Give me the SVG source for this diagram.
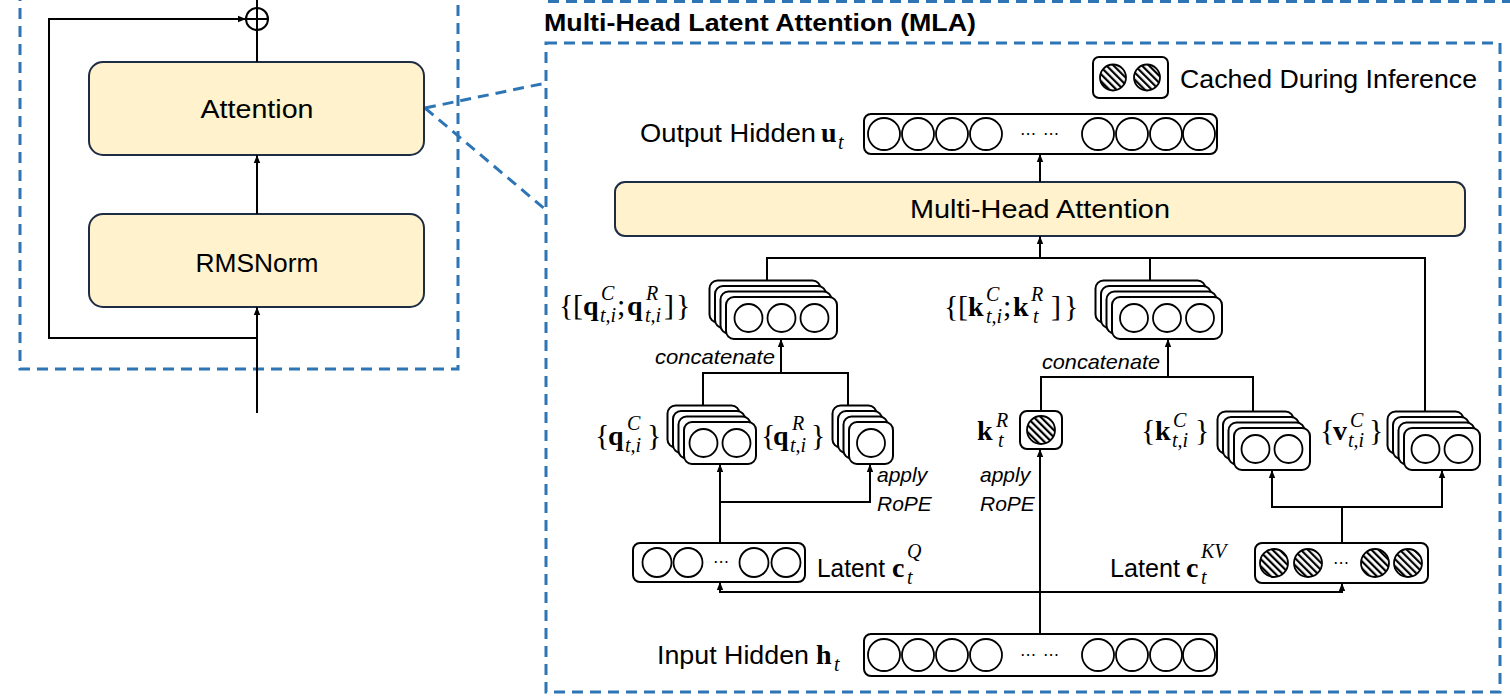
<svg xmlns="http://www.w3.org/2000/svg" width="1510" height="699" viewBox="0 0 1510 699">
<style>
.box{fill:#FFF2CC;stroke:#1F2D44;stroke-width:2}
.vec{fill:#fff;stroke:#000;stroke-width:2}
.cir{fill:#fff;stroke:#000;stroke-width:1.8}
.hc{fill:url(#hatch);stroke:#000;stroke-width:1.8}
.dash{fill:none;stroke:#2E75B6;stroke-width:3;stroke-dasharray:11 7}
.ln{fill:none;stroke:#000;stroke-width:2}
.sans{font-family:"Liberation Sans",Arial,sans-serif;fill:#000}
.it{font-family:"Liberation Sans",Arial,sans-serif;font-style:italic;fill:#000;font-size:21px}
.mb{font-family:"Liberation Serif","Times New Roman",serif;font-weight:bold;font-size:28px;fill:#000}
.mr{font-family:"Liberation Serif","Times New Roman",serif;font-size:30px;fill:#000}
.ms{font-family:"Liberation Serif","Times New Roman",serif;font-style:italic;font-size:20px;fill:#000}
.dots{font-family:"DejaVu Sans",sans-serif;font-size:16px;fill:#000}
</style>
<defs>
<pattern id="hatch" patternUnits="userSpaceOnUse" width="5" height="5" patternTransform="rotate(-45)">
<rect width="5" height="5" fill="#fff"/><rect width="2.2" height="5" fill="#000"/>
</pattern>
<marker id="ah" viewBox="0 0 10 10" refX="10" refY="5" markerWidth="8" markerHeight="8" markerUnits="userSpaceOnUse" orient="auto">
<path d="M0,1 L10,5 L0,9 z" fill="#000"/>
</marker>
</defs>
<rect width="1510" height="699" fill="#fff"/>

<g id="frames">
<path class="dash" d="M20,-10 V369 H458 V-10"/>
<path class="dash" d="M548,1.5 H1512"/>
<rect class="dash" x="546" y="43" width="954" height="649"/>
<path class="dash" d="M425,108 L546,83 M425,108 L546,210"/>
</g>

<g id="title"><text class="sans" x="544" y="31" font-size="24" font-weight="bold" textLength="432" lengthAdjust="spacingAndGlyphs">Multi-Head Latent Attention (MLA)</text></g>

<g id="attention-block">
<rect class="box" x="89" y="62" width="335" height="93" rx="14"/>
<text class="sans" x="257" y="118" font-size="26" text-anchor="middle" textLength="113" lengthAdjust="spacingAndGlyphs">Attention</text>
</g>
<g id="rmsnorm">
<rect class="box" x="89" y="214" width="335" height="93" rx="14"/>
<text class="sans" x="257" y="272" font-size="26" text-anchor="middle" textLength="123" lengthAdjust="spacingAndGlyphs">RMSNorm</text>
</g>
<g id="add">
<circle cx="257" cy="19" r="11" fill="#fff" stroke="#000" stroke-width="2"/>
<path class="ln" d="M246,19 H268 M257,8 V30"/>
</g>

<g id="legend">
<rect class="vec" x="1093" y="57" width="75" height="41" rx="6"/>
<circle class="hc" cx="1113" cy="77.5" r="13"/>
<circle class="hc" cx="1147" cy="77.5" r="13"/>
<text class="sans" x="1180" y="88" font-size="26.5" textLength="297" lengthAdjust="spacingAndGlyphs">Cached During Inference</text>
</g>

<g id="output-hidden">
<text class="sans" x="640" y="142" font-size="26" textLength="176" lengthAdjust="spacingAndGlyphs">Output Hidden</text>
<text class="mb" x="821" y="142">u</text><text class="ms" x="838" y="149">t</text>
<rect class="vec" x="864" y="114" width="353" height="40" rx="7"/>
<circle class="cir" cx="884" cy="134" r="16"/><circle class="cir" cx="918" cy="134" r="16"/>
<circle class="cir" cx="952" cy="134" r="16"/><circle class="cir" cx="986" cy="134" r="16"/>
<text class="dots" x="1020" y="139">⋯</text><text class="dots" x="1043" y="139">⋯</text>
<circle class="cir" cx="1098" cy="134" r="16"/><circle class="cir" cx="1132" cy="134" r="16"/>
<circle class="cir" cx="1166" cy="134" r="16"/><circle class="cir" cx="1199" cy="134" r="16"/>
</g>

<g id="mha">
<rect class="box" x="615" y="182" width="850" height="54" rx="10"/>
<text class="sans" x="1040" y="218" font-size="26" text-anchor="middle" textLength="260" lengthAdjust="spacingAndGlyphs">Multi-Head Attention</text>
</g>

<g id="q-concat">
<rect class="vec" x="709.5" y="280.5" width="111" height="42" rx="8"/>
<rect class="vec" x="715" y="286" width="111" height="42" rx="8"/>
<rect class="vec" x="720.5" y="291.5" width="111" height="42" rx="8"/>
<rect class="vec" x="726" y="297" width="111" height="42" rx="8"/>
<circle class="cir" cx="748.5" cy="318" r="14"/><circle class="cir" cx="781.5" cy="318" r="14"/><circle class="cir" cx="814.5" cy="318" r="14"/>
<text class="mr" x="559" y="315">{</text><text class="mr" x="573" y="315">[</text>
<text class="mb" x="583" y="315">q</text><text class="ms" x="601" y="300">C</text><text class="ms" x="600" y="322">t,i</text>
<text class="mr" x="617" y="315">;</text>
<text class="mb" x="627" y="315">q</text><text class="ms" x="646" y="300">R</text><text class="ms" x="645" y="322">t,i</text>
<text class="mr" x="664" y="315">]</text><text class="mr" x="676" y="315">}</text>
<text class="it" x="655" y="364" textLength="120" lengthAdjust="spacingAndGlyphs">concatenate</text>
</g>

<g id="k-concat">
<rect class="vec" x="1095.5" y="280.5" width="110" height="42" rx="8"/>
<rect class="vec" x="1101" y="286" width="110" height="42" rx="8"/>
<rect class="vec" x="1106.5" y="291.5" width="110" height="42" rx="8"/>
<rect class="vec" x="1112" y="297" width="110" height="42" rx="8"/>
<circle class="cir" cx="1134" cy="318" r="14"/><circle class="cir" cx="1167" cy="318" r="14"/><circle class="cir" cx="1200" cy="318" r="14"/>
<text class="mr" x="944" y="316">{</text><text class="mr" x="958" y="316">[</text>
<text class="mb" x="968" y="316">k</text><text class="ms" x="986" y="301">C</text><text class="ms" x="986" y="323">t,i</text>
<text class="mr" x="1003" y="316">;</text>
<text class="mb" x="1013" y="316">k</text><text class="ms" x="1031" y="301">R</text><text class="ms" x="1033" y="323">t</text>
<text class="mr" x="1051" y="316">]</text><text class="mr" x="1064" y="316">}</text>
<text class="it" x="1042" y="369" textLength="118" lengthAdjust="spacingAndGlyphs">concatenate</text>
</g>

<g id="q-c">
<rect class="vec" x="667.5" y="405.5" width="72" height="42" rx="8"/>
<rect class="vec" x="673" y="411" width="72" height="42" rx="8"/>
<rect class="vec" x="678.5" y="416.5" width="72" height="42" rx="8"/>
<rect class="vec" x="684" y="422" width="72" height="42" rx="8"/>
<circle class="cir" cx="703.5" cy="443" r="14"/><circle class="cir" cx="736.5" cy="443" r="14"/>
<text class="mr" x="595" y="445">{</text>
<text class="mb" x="608" y="445">q</text><text class="ms" x="627" y="430">C</text><text class="ms" x="625" y="452">t,i</text>
<text class="mr" x="647" y="445">}</text>
</g>

<g id="q-r">
<rect class="vec" x="832.5" y="405.5" width="44" height="42" rx="8"/>
<rect class="vec" x="838" y="411" width="44" height="42" rx="8"/>
<rect class="vec" x="843.5" y="416.5" width="44" height="42" rx="8"/>
<rect class="vec" x="849" y="422" width="44" height="42" rx="8"/>
<circle class="cir" cx="871" cy="443" r="14"/>
<text class="mr" x="761" y="445">{</text>
<text class="mb" x="773" y="445">q</text><text class="ms" x="792" y="430">R</text><text class="ms" x="790" y="452">t,i</text>
<text class="mr" x="811" y="445">}</text>
<text class="it" x="877" y="482">apply</text>
<text class="it" x="877" y="511">RoPE</text>
</g>

<g id="k-r">
<rect class="vec" x="1020" y="411" width="42" height="38" rx="7"/>
<circle class="hc" cx="1041" cy="430" r="14"/>
<text class="mb" x="977" y="440">k</text><text class="ms" x="996" y="427">R</text><text class="ms" x="998" y="447">t</text>
<text class="it" x="980" y="482">apply</text>
<text class="it" x="980" y="511">RoPE</text>
</g>

<g id="k-c">
<rect class="vec" x="1217.5" y="411.5" width="76" height="42" rx="8"/>
<rect class="vec" x="1223" y="417" width="76" height="42" rx="8"/>
<rect class="vec" x="1228.5" y="422.5" width="76" height="42" rx="8"/>
<rect class="vec" x="1234" y="428" width="76" height="42" rx="8"/>
<circle class="cir" cx="1255.5" cy="449" r="14"/><circle class="cir" cx="1288.5" cy="449" r="14"/>
<text class="mr" x="1141" y="440">{</text>
<text class="mb" x="1155" y="440">k</text><text class="ms" x="1173" y="427">C</text><text class="ms" x="1172" y="447">t,i</text>
<text class="mr" x="1195" y="440">}</text>
</g>

<g id="v-c">
<rect class="vec" x="1387.5" y="411.5" width="76" height="42" rx="8"/>
<rect class="vec" x="1393" y="417" width="76" height="42" rx="8"/>
<rect class="vec" x="1398.5" y="422.5" width="76" height="42" rx="8"/>
<rect class="vec" x="1404" y="428" width="76" height="42" rx="8"/>
<circle class="cir" cx="1425.5" cy="449" r="14"/><circle class="cir" cx="1458.5" cy="449" r="14"/>
<text class="mr" x="1320" y="440">{</text>
<text class="mb" x="1333" y="440">v</text><text class="ms" x="1350" y="427">C</text><text class="ms" x="1348" y="447">t,i</text>
<text class="mr" x="1369" y="440">}</text>
</g>

<g id="latent-cq">
<rect class="vec" x="633" y="543" width="172" height="39" rx="7"/>
<circle class="cir" cx="657" cy="562.5" r="14.5"/><circle class="cir" cx="688" cy="562.5" r="14.5"/>
<text class="dots" x="713" y="567">⋯</text>
<circle class="cir" cx="754" cy="562.5" r="14.5"/><circle class="cir" cx="786" cy="562.5" r="14.5"/>
<text class="sans" x="817" y="577" font-size="26" textLength="68" lengthAdjust="spacingAndGlyphs">Latent</text>
<text class="mb" x="892" y="577">c</text><text class="ms" x="907" y="558">Q</text><text class="ms" x="907" y="584">t</text>
</g>

<g id="latent-ckv">
<rect class="vec" x="1255" y="543" width="173" height="40" rx="7"/>
<circle class="hc" cx="1274" cy="563" r="14"/><circle class="hc" cx="1308" cy="563" r="14"/>
<text class="dots" x="1333" y="568">⋯</text>
<circle class="hc" cx="1375" cy="563" r="14"/><circle class="hc" cx="1408" cy="563" r="14"/>
<text class="sans" x="1110" y="577" font-size="26" textLength="70" lengthAdjust="spacingAndGlyphs">Latent</text>
<text class="mb" x="1186" y="577">c</text><text class="ms" x="1201" y="558">KV</text><text class="ms" x="1201" y="584">t</text>
</g>

<g id="input-hidden">
<text class="sans" x="657" y="664" font-size="26" textLength="152" lengthAdjust="spacingAndGlyphs">Input Hidden</text>
<text class="mb" x="816" y="664">h</text><text class="ms" x="834" y="671">t</text>
<rect class="vec" x="864" y="634" width="353" height="42" rx="7"/>
<circle class="cir" cx="884" cy="655" r="16"/><circle class="cir" cx="918" cy="655" r="16"/>
<circle class="cir" cx="952" cy="655" r="16"/><circle class="cir" cx="986" cy="655" r="16"/>
<text class="dots" x="1020" y="660">⋯</text><text class="dots" x="1043" y="660">⋯</text>
<circle class="cir" cx="1098" cy="655" r="16"/><circle class="cir" cx="1132" cy="655" r="16"/>
<circle class="cir" cx="1166" cy="655" r="16"/><circle class="cir" cx="1199" cy="655" r="16"/>
</g>

<g id="connectors" class="ln">
<path class="ln" d="M257,413 V307" marker-end="url(#ah)"/>
<path class="ln" d="M257,214 V155" marker-end="url(#ah)"/>
<path class="ln" d="M257,62 V30 M257,8 V-2"/>
<path class="ln" d="M257,338 H49 V19 H246" marker-end="url(#ah)"/>
<path class="ln" d="M1040,182 V154" marker-end="url(#ah)"/>
<path class="ln" d="M1040,258 V236" marker-end="url(#ah)"/>
<path class="ln" d="M767,280.5 V258 H1425 V411.5 M1150,258 V280.5"/>
<path class="ln" d="M781,373 V339" marker-end="url(#ah)"/>
<path class="ln" d="M703,405.5 V373 H848 V405.5"/>
<path class="ln" d="M1168,377 V339" marker-end="url(#ah)"/>
<path class="ln" d="M1041,411 V377 H1253 V411.5"/>
<path class="ln" d="M720,543 V464" marker-end="url(#ah)"/>
<path class="ln" d="M720,502 H870 V464" marker-end="url(#ah)"/>
<path class="ln" d="M1342,543 V507 H1272 V470" marker-end="url(#ah)"/>
<path class="ln" d="M1342,507 H1442 V470" marker-end="url(#ah)"/>
<path class="ln" d="M1040,634 V449" marker-end="url(#ah)"/>
<path class="ln" d="M1040,592 H720 V582" marker-end="url(#ah)"/>
<path class="ln" d="M1040,592 H1342 V583" marker-end="url(#ah)"/>
</g>
</svg>
